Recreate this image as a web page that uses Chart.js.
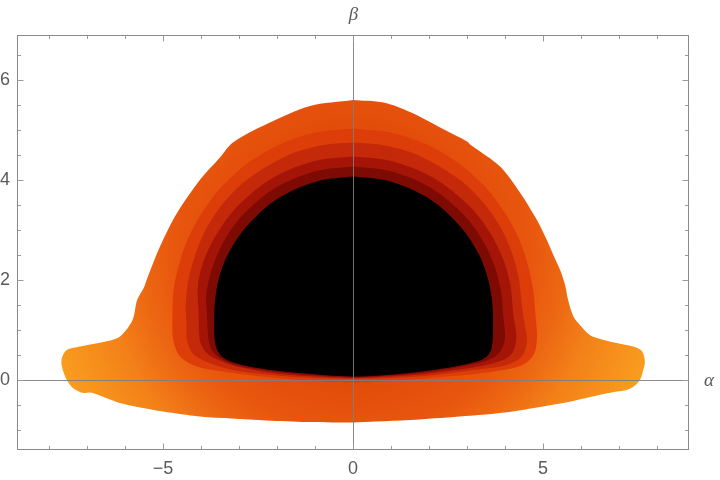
<!DOCTYPE html>
<html>
<head>
<meta charset="utf-8">
<script src="https://cdn.jsdelivr.net/npm/chart.js@4.4.1/dist/chart.umd.min.js"></script>
<style>
  html, body { margin: 0; padding: 0; background: #fff; }
</style>
</head>
<body>
<canvas id="shadow_chart" width="720" height="480"></canvas>
<script>
// BAND OUTLINES, (alpha, beta) PAIRS, OUTERMOST FIRST
const outerEdge = [
  [0,5.6],[0.8,5.55],[1.5,5.36],[2.37,5.02],[3.0,4.77],[3.1,4.7],[3.87,4.27],[4.4,3.74],[4.84,3.2],
  [5.1,2.8],[5.3,2.45],[5.45,2.2],[5.58,1.9],[5.66,1.6],[5.8,1.27],[5.97,1.1],[6.15,0.95],[6.3,0.87],
  [6.8,0.76],[7.37,0.67],[7.6,0.58],[7.68,0.37],[7.62,0.15],[7.55,0.0],[7.4,-0.12],[7.2,-0.2],
  [6.95,-0.23],[6.6,-0.28],[6.3,-0.33],[5.6,-0.45],[5.0,-0.53],[4.0,-0.65],[2.8,-0.73],[1.5,-0.8],
  [0.6,-0.83],[0,-0.85],[-1.2,-0.84],[-2.27,-0.81],[-3.2,-0.77],[-4.03,-0.73],[-5.0,-0.63],
  [-5.6,-0.55],[-6.13,-0.46],[-6.5,-0.36],[-6.9,-0.25],[-7.1,-0.26],[-7.37,-0.16],[-7.53,0.0],
  [-7.66,0.27],[-7.66,0.44],[-7.53,0.6],[-7.18,0.67],[-6.5,0.77],[-6.13,0.87],[-5.8,1.2],
  [-5.68,1.6],[-5.5,1.85],[-5.43,2.0],[-5.2,2.45],[-5.0,2.8],[-4.63,3.34],[-4.03,4.0],[-3.5,4.45],
  [-3.16,4.75],[-2.27,5.12],[-1.13,5.48],[0,5.6]
];
const band2Edge = [
  [0,5.03],[0.98,4.95],[1.97,4.7],[2.84,4.3],[3.55,3.8],[4.03,3.3],[4.38,2.8],[4.6,2.3],[4.74,1.8],
  [4.8,1.3],[4.84,0.85],[4.75,0.5],[4.4,0.28],[3.4,0.14],[2.0,0.04],[1.0,-0.02],[0,-0.05],
  [-1.0,-0.02],[-2.0,0.04],[-3.16,0.14],[-4.1,0.27],[-4.55,0.47],[-4.73,0.8],[-4.75,1.3],
  [-4.72,1.8],[-4.58,2.3],[-4.36,2.8],[-4.01,3.3],[-3.53,3.8],[-2.83,4.3],[-1.96,4.7],
  [-0.98,4.95],[0,5.03]
];
const band3Edge = [
  [0,4.75],[0.77,4.7],[1.7,4.5],[2.82,4.0],[3.48,3.5],[3.92,3.0],[4.2,2.5],[4.37,2.0],[4.44,1.5],
  [4.52,1.1],[4.58,0.8],[4.45,0.48],[4.05,0.3],[3.16,0.2],[2.0,0.09],[1.0,0.04],[0,0.02],
  [-1.0,0.04],[-2.0,0.09],[-3.16,0.2],[-3.84,0.36],[-4.2,0.52],[-4.37,0.8],[-4.38,1.1],
  [-4.4,1.5],[-4.33,2.0],[-4.15,2.5],[-3.88,3.0],[-3.45,3.5],[-2.8,4.0],[-1.7,4.5],[-0.77,4.7],[0,4.75]
];
const band4Edge = [
  [0,4.47],[0.88,4.4],[1.7,4.2],[2.41,3.9],[3.16,3.4],[3.64,2.9],[3.96,2.4],[4.14,1.9],[4.22,1.3],
  [4.3,0.85],[4.2,0.55],[3.95,0.4],[3.3,0.27],[2.0,0.13],[1.0,0.07],[0,0.04],
  [-1.0,0.07],[-2.0,0.13],[-3.05,0.27],[-3.68,0.45],[-3.9,0.58],[-4.03,0.8],[-4.06,1.3],
  [-4.08,1.9],[-3.92,2.4],[-3.6,2.9],[-3.13,3.4],[-2.4,3.9],[-1.7,4.2],[-0.88,4.4],[0,4.47]
];
const band5Edge = [
  [0,4.27],[0.85,4.2],[1.65,4.0],[2.33,3.7],[3.04,3.2],[3.48,2.7],[3.76,2.2],[3.91,1.7],[3.95,1.3],
  [4.0,0.85],[3.9,0.6],[3.7,0.45],[3.25,0.33],[2.0,0.16],[1.0,0.09],[0,0.055],
  [-1.0,0.09],[-2.0,0.16],[-3.1,0.3],[-3.5,0.44],[-3.7,0.58],[-3.8,0.8],[-3.84,1.3],
  [-3.86,1.7],[-3.72,2.2],[-3.45,2.7],[-3.02,3.2],[-2.32,3.7],[-1.64,4.0],[-0.84,4.2],[0,4.27]
];
const coreEdge = [
  [0,4.07],[0.82,4.0],[1.58,3.8],[2.24,3.5],[2.9,3.0],[3.32,2.5],[3.56,2.0],[3.67,1.5],[3.68,0.9],
  [3.65,0.65],[3.56,0.5],[3.4,0.41],[3.16,0.35],[2.6,0.26],[2.0,0.19],[1.2,0.12],[0,0.07],
  [-1.4,0.14],[-2.27,0.21],[-2.9,0.3],[-3.25,0.38],[-3.44,0.46],[-3.56,0.58],[-3.63,0.75],
  [-3.65,1.0],[-3.64,1.5],[-3.54,2.0],[-3.3,2.5],[-2.88,3.0],[-2.22,3.5],[-1.56,3.8],[-0.8,4.0],[0,4.07]
];

// AXES
const alphaRange = [-8.84, 8.84];
const betaRange = [-1.4, 6.9];
const xMajorTicks = [-5, 0, 5];
const yMajorTicks = [0, 2, 4, 6];
const xMinorTicks = [-8, -7, -6, -4, -3, -2, -1, 1, 2, 3, 4, 6, 7, 8];
const yMinorTicks = [-1, -0.5, 0.5, 1, 1.5, 2.5, 3, 3.5, 4.5, 5, 5.5, 6.5];

const band_colors = ['#dd3d08', '#c4290a', '#a51507', '#7e0a04', '#000000'];

// outer band goes from red-orange in the middle to yellow-orange on the wings
function outerFill(context) {
  const chart = context.chart;
  const xs = chart.scales.x, ys = chart.scales.y;
  if (!chart.chartArea || !xs || !ys) return '#ea5a0f';
  const cx = xs.getPixelForValue(0), cy = ys.getPixelForValue(2.5);
  const g = chart.ctx.createRadialGradient(cx, cy, 0, cx, cy, 320);
  g.addColorStop(0, '#e04a0a');
  g.addColorStop(0.41, '#e34d0b');
  g.addColorStop(0.56, '#e8570e');
  g.addColorStop(0.66, '#ed6813');
  g.addColorStop(0.77, '#f38019');
  g.addColorStop(0.97, '#f99c1e');
  g.addColorStop(1, '#faa020');
  return g;
}

const toPoints = edge => edge.map(p => ({ x: p[0], y: p[1] }));

const edges = [outerEdge, band2Edge, band3Edge, band4Edge, band5Edge, coreEdge];
const datasets = edges.map((edge, i) => ({
  data: toPoints(edge),
  showLine: true,
  fill: 'shape',
  backgroundColor: i === 0 ? outerFill : band_colors[i - 1],
  borderColor: 'transparent',
  borderWidth: 0,
  pointRadius: 0,
  tension: 0.3,
  order: 10 - i
}));

const tickLine = (ctx, x1, y1, x2, y2) => {
  ctx.beginPath(); ctx.moveTo(x1, y1); ctx.lineTo(x2, y2); ctx.stroke();
};

const frame_plugin = {
  id: 'frame',
  afterDatasetsDraw(chart) {
    const ctx = chart.ctx, a = chart.chartArea;
    const xs = chart.scales.x, ys = chart.scales.y;
    ctx.save();
    ctx.lineWidth = 1;

    // axes through the origin
    const x0 = Math.round(xs.getPixelForValue(0)) + 0.5;
    const y0 = Math.round(ys.getPixelForValue(0)) + 0.5;
    ctx.strokeStyle = 'rgba(125,125,125,0.9)';
    tickLine(ctx, a.left, y0, a.right, y0);
    tickLine(ctx, x0, a.top, x0, a.bottom);

    // frame
    ctx.strokeStyle = '#8a8a8a';
    ctx.strokeRect(Math.round(a.left) + 0.5, Math.round(a.top) + 0.5,
      Math.round(a.right - a.left) - 1, Math.round(a.bottom - a.top) - 1);

    // inward ticks on all four sides
    ctx.strokeStyle = '#9a9a9a';
    const L = Math.round(a.left) + 0.5, R = Math.round(a.right) - 0.5;
    const T = Math.round(a.top) + 0.5, B = Math.round(a.bottom) - 0.5;
    const xTick = (v, len) => {
      const px = Math.round(xs.getPixelForValue(v)) + 0.5;
      tickLine(ctx, px, B, px, B - len);
      tickLine(ctx, px, T, px, T + len);
    };
    const yTick = (v, len) => {
      const py = Math.round(ys.getPixelForValue(v)) + 0.5;
      tickLine(ctx, L, py, L + len, py);
      tickLine(ctx, R, py, R - len, py);
    };
    xMajorTicks.forEach(v => xTick(v, 6));
    xMinorTicks.forEach(v => xTick(v, 3.5));
    yMajorTicks.forEach(v => yTick(v, 6));
    yMinorTicks.forEach(v => yTick(v, 3.5));

    // axis names
    ctx.fillStyle = '#5a5a5a';
    ctx.font = 'italic 19px "Liberation Serif"';
    ctx.textBaseline = 'middle';
    ctx.textAlign = 'center';
    ctx.fillText('β', x0, 15);
    ctx.textAlign = 'left';
    ctx.fillText('α', a.right + 15, y0);
    ctx.restore();
  }
};

const minusLabel = v => (v < 0 ? '\u2212' + Math.abs(v) : String(v));

new Chart(document.getElementById('shadow_chart'), {
  type: 'scatter',
  data: { datasets: datasets },
  options: {
    responsive: false,
    animation: false,
    layout: { padding: { top: 35, right: 31, left: 0, bottom: 0 } },
    plugins: {
      legend: { display: false },
      tooltip: { enabled: false }
    },
    scales: {
      x: {
        type: 'linear',
        min: alphaRange[0],
        max: alphaRange[1],
        grid: { display: false, drawTicks: false },
        border: { display: false },
        afterBuildTicks: scale => { scale.ticks = xMajorTicks.map(v => ({ value: v })); },
        afterFit: scale => { scale.height = 30; },
        ticks: {
          padding: 8,
          color: '#5a5a5a',
          font: { family: '"Liberation Sans"', size: 18 },
          callback: minusLabel
        }
      },
      y: {
        type: 'linear',
        min: betaRange[0],
        max: betaRange[1],
        grid: { display: false, drawTicks: false },
        border: { display: false },
        afterBuildTicks: scale => { scale.ticks = yMajorTicks.map(v => ({ value: v })); },
        afterFit: scale => { scale.width = 17; },
        ticks: {
          padding: 7,
          color: '#5a5a5a',
          font: { family: '"Liberation Sans"', size: 18 },
          callback: minusLabel
        }
      }
    }
  },
  plugins: [frame_plugin]
});
</script>
</body>
</html>
